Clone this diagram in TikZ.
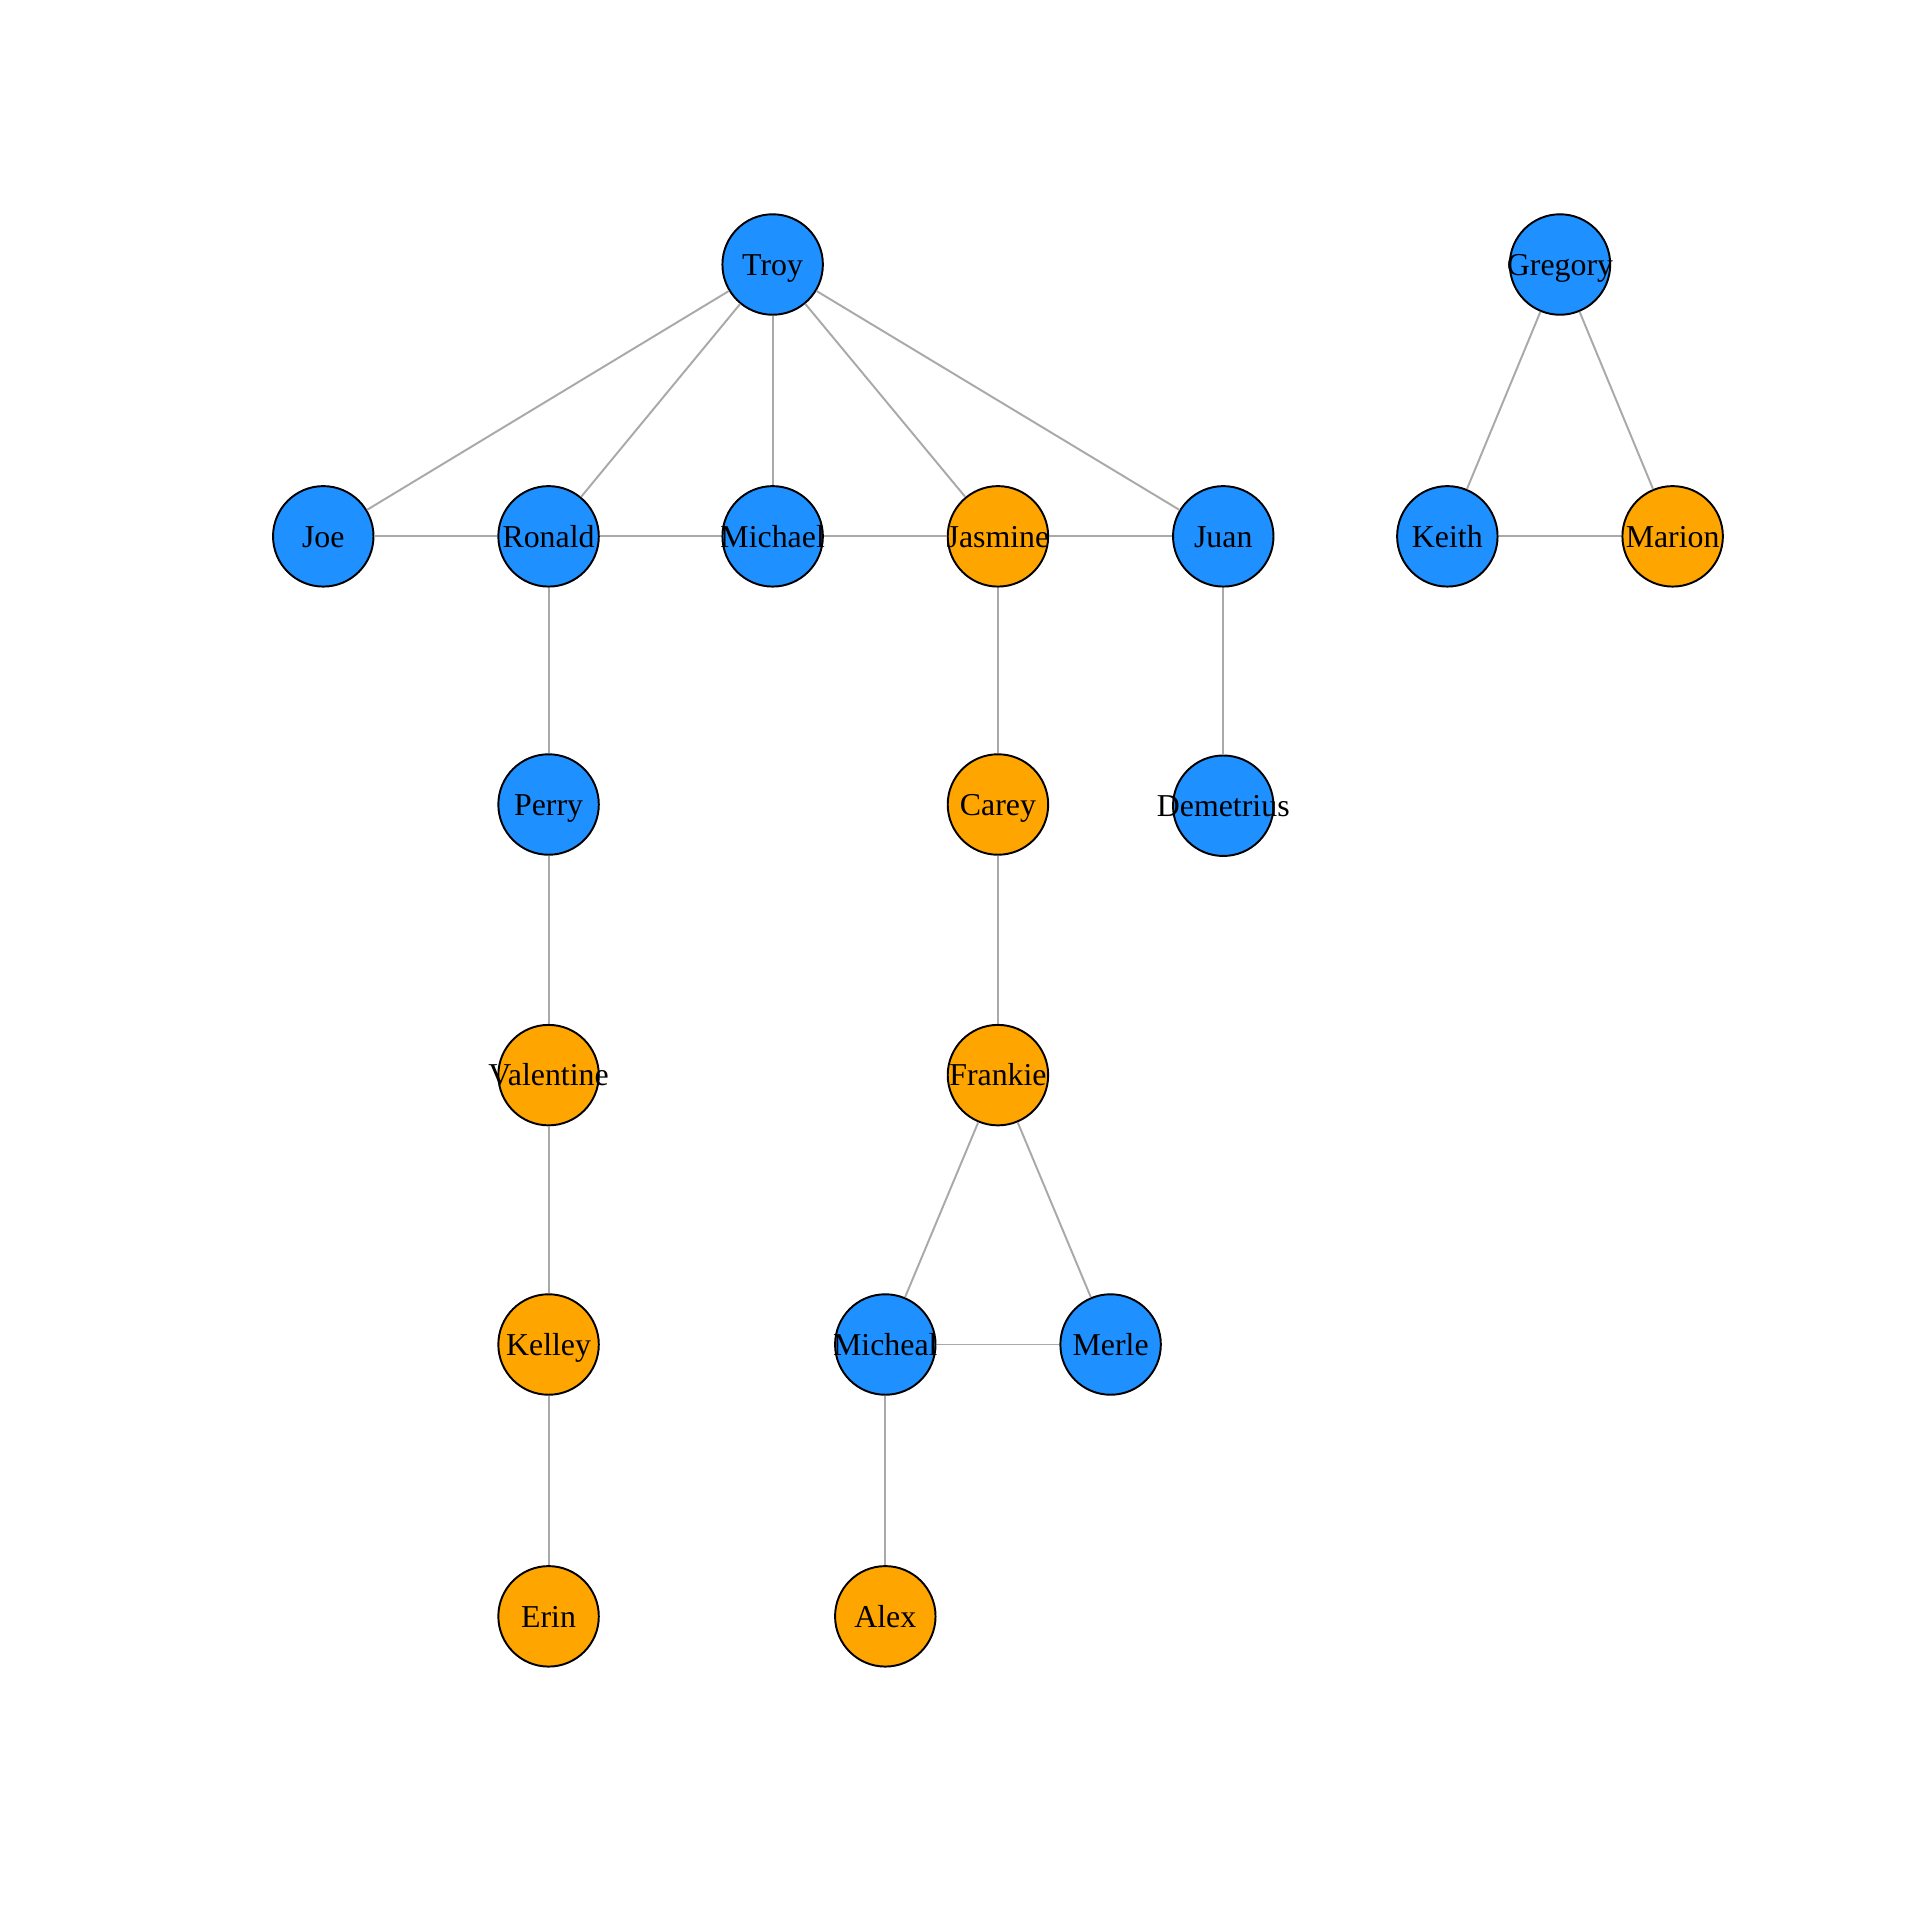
\documentclass[tikz,border=0pt]{standalone}
\usepackage{fontspec}
\setmainfont{Liberation Serif}
\definecolor{nblue}{HTML}{1E90FF}
\definecolor{norange}{HTML}{FFA500}
\definecolor{egray}{HTML}{A9A9A9}
\newcommand{\zw}[1]{\makebox[0pt]{\raisebox{-2.5pt}[0pt][0pt]{#1}}}
\begin{document}
\begin{tikzpicture}[x=0.01cm,y=-0.01cm,
  vtx/.style={circle,draw=black,line width=0.45pt,minimum size=0.82cm,inner sep=0pt,font=\fontsize{7.4}{8}\selectfont},
  bv/.style={vtx,fill=nblue},
  ov/.style={vtx,fill=norange},
  edge/.style={draw=egray,line width=0.45pt}]
\useasboundingbox (0,0) rectangle (1568,1568);
\fill[white] (0,0) rectangle (1568,1568);
\node[bv] (troy) at (631,216) {\zw{Troy}};
\node[bv] (gregory) at (1274,216) {\zw{Gregory}};
\node[bv] (joe) at (264,438) {\zw{Joe}};
\node[bv] (ronald) at (448,438) {\zw{Ronald}};
\node[bv] (michael) at (631,438) {\zw{Michael}};
\node[ov] (jasmine) at (815,438) {\zw{Jasmine}};
\node[bv] (juan) at (999,438) {\zw{Juan}};
\node[bv] (keith) at (1182,438) {\zw{Keith}};
\node[ov] (marion) at (1366,438) {\zw{Marion}};
\node[bv] (perry) at (448,657) {\zw{Perry}};
\node[ov] (carey) at (815,657) {\zw{Carey}};
\node[bv] (demetrius) at (999,658) {\zw{Demetrius}};
\node[ov] (valentine) at (448,878) {\zw{Valentine}};
\node[ov] (frankie) at (815,878) {\zw{Frankie}};
\node[ov] (kelley) at (448,1098) {\zw{Kelley}};
\node[bv] (micheal) at (723,1098) {\zw{Micheal}};
\node[bv] (merle) at (907,1098) {\zw{Merle}};
\node[ov] (erin) at (448,1320) {\zw{Erin}};
\node[ov] (alex) at (723,1320) {\zw{Alex}};
\foreach \a/\b in {troy/joe,troy/ronald,troy/michael,troy/jasmine,troy/juan,
  joe/ronald,ronald/michael,michael/jasmine,jasmine/juan,ronald/perry,perry/valentine,
  valentine/kelley,kelley/erin,jasmine/carey,carey/frankie,frankie/micheal,frankie/merle,
  micheal/merle,micheal/alex,juan/demetrius,gregory/keith,gregory/marion,keith/marion}
  \draw[edge] (\a) -- (\b);
\end{tikzpicture}
\end{document}
